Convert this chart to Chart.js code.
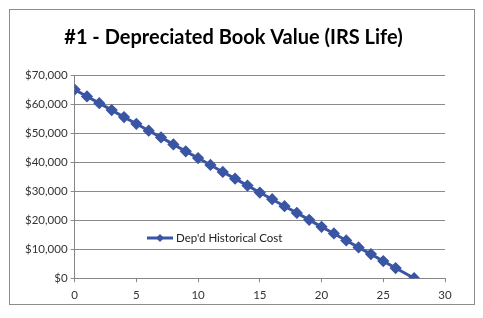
<!DOCTYPE html>
<html lang="en">
<head>
  <meta charset="UTF-8">
  <script src="https://cdn.jsdelivr.net/npm/chart.js"></script>
  <title>Depreciated Book Value</title>
  <style>
    body { margin: 0; background: #fff; }
    .frame {
      position: absolute; left: 9px; top: 9px;
      width: 464px; height: 294px;
      border: 1px solid #8c8c8c;
    }
  </style>
</head>
<body>
  <div class="frame">
    <canvas id="myChart" width="464" height="294"></canvas>
  </div>

<script>
const titulo = '#1 - Depreciated Book Value (IRS Life)'
const serieNome = "Dep'd Historical Cost"
const anos = [0, 1, 2, 3, 4, 5, 6, 7, 8, 9, 10, 11, 12, 13, 14, 15, 16, 17, 18, 19, 20, 21, 22, 23, 24, 25, 26, 27.5]
const valores = [65000, 62600, 60300, 57900, 55500, 53200, 50800, 48500, 46100, 43700, 41400, 39000, 36600, 34300,
  31900, 29500, 27200, 24800, 22500, 20100, 17700, 15400, 13000, 10600, 8300, 5900, 3500, 0]

const azul = '#3a55a4'

// legenda desenhada dentro da area do grafico
const legendaDentro = {
  id: 'legendaDentro',
  afterDraw(chart) {
    const ctx = chart.ctx
    const x = 137, y = 228
    ctx.save()
    ctx.strokeStyle = azul
    ctx.lineWidth = 3
    ctx.beginPath()
    ctx.moveTo(x, y)
    ctx.lineTo(x + 26, y)
    ctx.stroke()
    ctx.fillStyle = azul
    ctx.beginPath()
    ctx.moveTo(x + 13, y - 4)
    ctx.lineTo(x + 17, y)
    ctx.lineTo(x + 13, y + 4)
    ctx.lineTo(x + 9, y)
    ctx.closePath()
    ctx.fill()
    ctx.fillStyle = '#222'
    ctx.font = '11.5px Lato'
    ctx.textBaseline = 'middle'
    ctx.fillText(serieNome, x + 29, y)
    ctx.restore()
  }
}

const ctx = document.getElementById('myChart')
new Chart(ctx, {
  type: 'scatter',
  data: {
    datasets: [{
      label: serieNome,
      data: anos.map((a, i) => ({ x: a, y: valores[i] })),
      showLine: true,
      borderColor: azul,
      backgroundColor: azul,
      borderWidth: 3,
      pointStyle: 'rectRot',
      pointRadius: 4,
      pointHoverRadius: 4
    }]
  },
  options: {
    responsive: false,
    animation: false,
    layout: { padding: { left: 12, right: 29, top: 0, bottom: -4 } },
    plugins: {
      legend: { display: false },
      tooltip: { enabled: false },
      title: {
        display: true,
        text: titulo,
        color: '#000',
        font: { family: 'Lato', size: 20, weight: 'bold' },
        padding: { top: 16, bottom: 25 }
      }
    },
    scales: {
      x: {
        type: 'linear',
        min: 0, max: 30,
        ticks: { stepSize: 5, color: '#333', font: { family: 'Lato', size: 11.5 }, padding: 6 },
        grid: { drawOnChartArea: false, color: '#868686', tickLength: 4 },
        border: { color: '#868686' }
      },
      y: {
        min: 0, max: 70000,
        ticks: {
          stepSize: 10000, color: '#333', font: { family: 'Lato', size: 11.5 }, padding: 3,
          callback: v => '$' + v.toLocaleString('en-US')
        },
        grid: { color: '#8a8a8a', tickLength: 4 },
        border: { color: '#868686' }
      }
    }
  },
  plugins: [legendaDentro]
})
</script>
</body>
</html>
